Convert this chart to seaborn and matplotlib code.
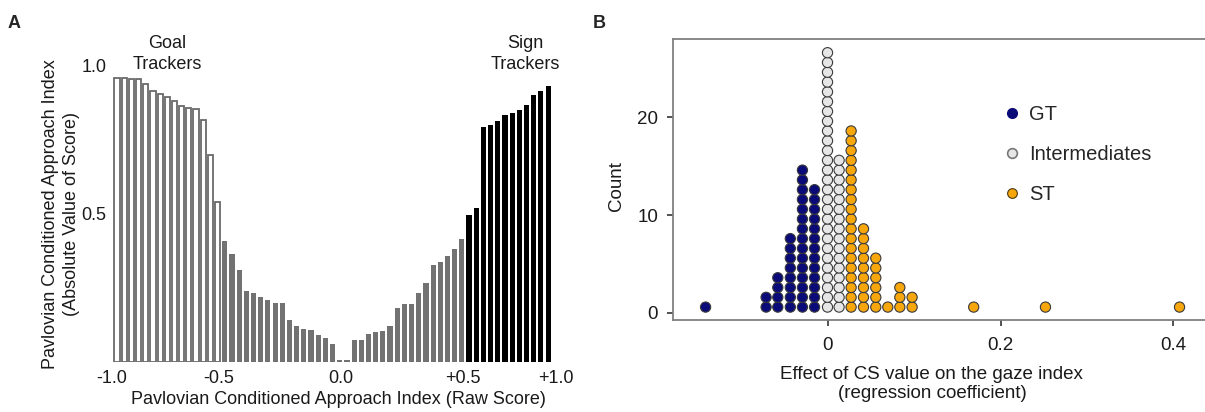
import numpy as np
import pandas as pd
import matplotlib
matplotlib.use("Agg")
import matplotlib.pyplot as plt
from matplotlib.lines import Line2D
import seaborn as sns

# panel A: sorted PCA index, absolute value, one bar per animal
gt_scores = [0.960, 0.958, 0.956, 0.956, 0.940, 0.915, 0.904, 0.894, 0.882,
             0.864, 0.859, 0.856, 0.817, 0.698, 0.540]
int_scores = [0.410, 0.365, 0.312, 0.240, 0.234, 0.218, 0.210, 0.201, 0.199,
              0.141, 0.122, 0.113, 0.107, 0.090, 0.082, 0.060, 0.006, 0.006,
              0.074, 0.075, 0.093, 0.100, 0.104, 0.120, 0.184, 0.195, 0.195,
              0.233, 0.266, 0.327, 0.337, 0.357, 0.382, 0.416]
st_scores = [0.497, 0.520, 0.795, 0.800, 0.814, 0.836, 0.840, 0.851, 0.868,
             0.902, 0.916, 0.932]
raw_tick_pos = [-0.7, 14.1, 31.1, 48.2, 61.1]
raw_tick_labels = ["-1.0", "-0.5", "0.0", "+0.5", "+1.0"]

# panel B: dot histogram of regression coefficients
gt_bins = [-0.141, -0.071, -0.0575, -0.043, -0.029, -0.015]
gt_counts = [1, 2, 4, 8, 15, 13]
int_bins = [0.0, 0.0134]
int_counts = [27, 16]
st_bins = [0.0273, 0.0416, 0.0558, 0.0697, 0.0836, 0.0978, 0.169, 0.252, 0.407]
st_counts = [19, 9, 6, 1, 3, 2, 1, 1, 1]

sns.set_theme(style="white")
plt.rcParams['font.family'] = ['Liberation Sans', 'DejaVu Sans']

W, H = 1205, 412
fig = plt.figure(figsize=(W / 100, H / 100), dpi=100)

# ---------------- panel A
heights = gt_scores + int_scores + st_scores
groups = ["GT"] * len(gt_scores) + ["INT"] * len(int_scores) + ["ST"] * len(st_scores)
dfA = pd.DataFrame({"idx": np.arange(len(heights)), "score": heights, "group": groups})

axA = fig.add_axes([112 / W, 50 / H, 444 / W, 296 / H])
sns.barplot(data=dfA, x="idx", y="score", hue="group",
            palette={"GT": "white", "INT": "#727272", "ST": "black"},
            dodge=False, width=0.72, linewidth=0, errorbar=None,
            legend=False, ax=axA)
for bar in axA.patches:
    i = int(round(bar.get_x() + bar.get_width() / 2))
    if 0 <= i < len(groups) and groups[i] == "GT":
        bar.set_edgecolor("#6a6a6a")
        bar.set_linewidth(1.3)

axA.set_xlim(-0.6, 60.6)
axA.set_ylim(0, 1.0)
for s in axA.spines.values():
    s.set_visible(False)
axA.set_yticks([0.5, 1.0])
axA.set_yticklabels(["0.5", "1.0"])
axA.set_xticks(raw_tick_pos)
axA.set_xticklabels(raw_tick_labels)
axA.tick_params(axis="both", length=0, labelsize=13, colors="#1a1a1a")
axA.tick_params(axis="y", pad=4)
axA.tick_params(axis="x", pad=6)
axA.set_xlabel("Pavlovian Conditioned Approach Index (Raw Score)", fontsize=13, color="#1a1a1a")
axA.xaxis.set_label_coords(0.51, -0.097)
axA.set_ylabel("Pavlovian Conditioned Approach Index\n(Absolute Value of Score)",
               fontsize=13, color="#1a1a1a", linespacing=1.3)
axA.yaxis.set_label_coords(-0.072, 0.5)

fig.text(167 / W, 1 - 54 / H, "Goal\nTrackers", fontsize=13, ha="center", va="center",
         linespacing=1.25, color="#1a1a1a")
fig.text(525 / W, 1 - 54 / H, "Sign\nTrackers", fontsize=13, ha="center", va="center",
         linespacing=1.25, color="#1a1a1a")

# ---------------- panel B
rows = []
for name, bins, counts in [("GT", gt_bins, gt_counts),
                           ("Intermediates", int_bins, int_counts),
                           ("ST", st_bins, st_counts)]:
    for b, c in zip(bins, counts):
        for k in range(c):
            rows.append({"coef": b, "stack": k + 0.6, "group": name})
dfB = pd.DataFrame(rows)

colB = {"GT": "#0a0a78", "Intermediates": "#e6e6e6", "ST": "#f7a60c"}

axB = fig.add_axes([672.7 / W, 92 / H, 542.3 / W, 281 / H])
sns.scatterplot(data=dfB, x="coef", y="stack", hue="group", palette=colB,
                s=54, edgecolor="#3a3a3a", linewidth=0.8, legend=False, ax=axB)
axB.set_xlim(-0.179, 0.448)
axB.set_ylim(-0.72, 28)
for side in ["left", "top", "bottom", "right"]:
    axB.spines[side].set_color("#808080")
    axB.spines[side].set_linewidth(1.3)
axB.set_xticks([0, 0.2, 0.4])
axB.set_xticklabels(["0", "0.2", "0.4"])
axB.set_yticks([0, 10, 20])
axB.tick_params(axis="both", length=4.5, width=1.3, color="#444444",
                labelsize=13.5, labelcolor="#1a1a1a", direction="out",
                bottom=True, left=True)
axB.tick_params(axis="x", pad=8)
axB.tick_params(axis="y", pad=6)
axB.set_xlabel("Effect of CS value on the gaze index\n(regression coefficient)",
               fontsize=13.5, color="#1a1a1a", linespacing=1.15)
axB.xaxis.set_label_coords(0.478, -0.165)
axB.set_ylabel("Count", fontsize=13.5, color="#1a1a1a")
axB.yaxis.set_label_coords(-0.088, 0.475)

handles = [Line2D([], [], marker="o", linestyle="", markersize=7,
                  markerfacecolor=colB["GT"], markeredgecolor=colB["GT"]),
           Line2D([], [], marker="o", linestyle="", markersize=7,
                  markerfacecolor=colB["Intermediates"], markeredgecolor="#777777",
                  markeredgewidth=1.2),
           Line2D([], [], marker="o", linestyle="", markersize=7,
                  markerfacecolor=colB["ST"], markeredgecolor="#4a3a10",
                  markeredgewidth=0.8)]
fig.legend(handles, ["GT", "Intermediates", "ST"], loc="upper left",
           bbox_to_anchor=(1004 / W, 1 - 105 / H), frameon=False,
           fontsize=14.5, handlelength=0.8, handletextpad=0.45, labelspacing=1.05,
           borderpad=0, borderaxespad=0)

fig.text(8 / W, 1 - 24 / H, "A", fontsize=13, fontweight="bold", va="center")
fig.text(593 / W, 1 - 24 / H, "B", fontsize=13, fontweight="bold", va="center")

fig.savefig("out.png", dpi=100)
